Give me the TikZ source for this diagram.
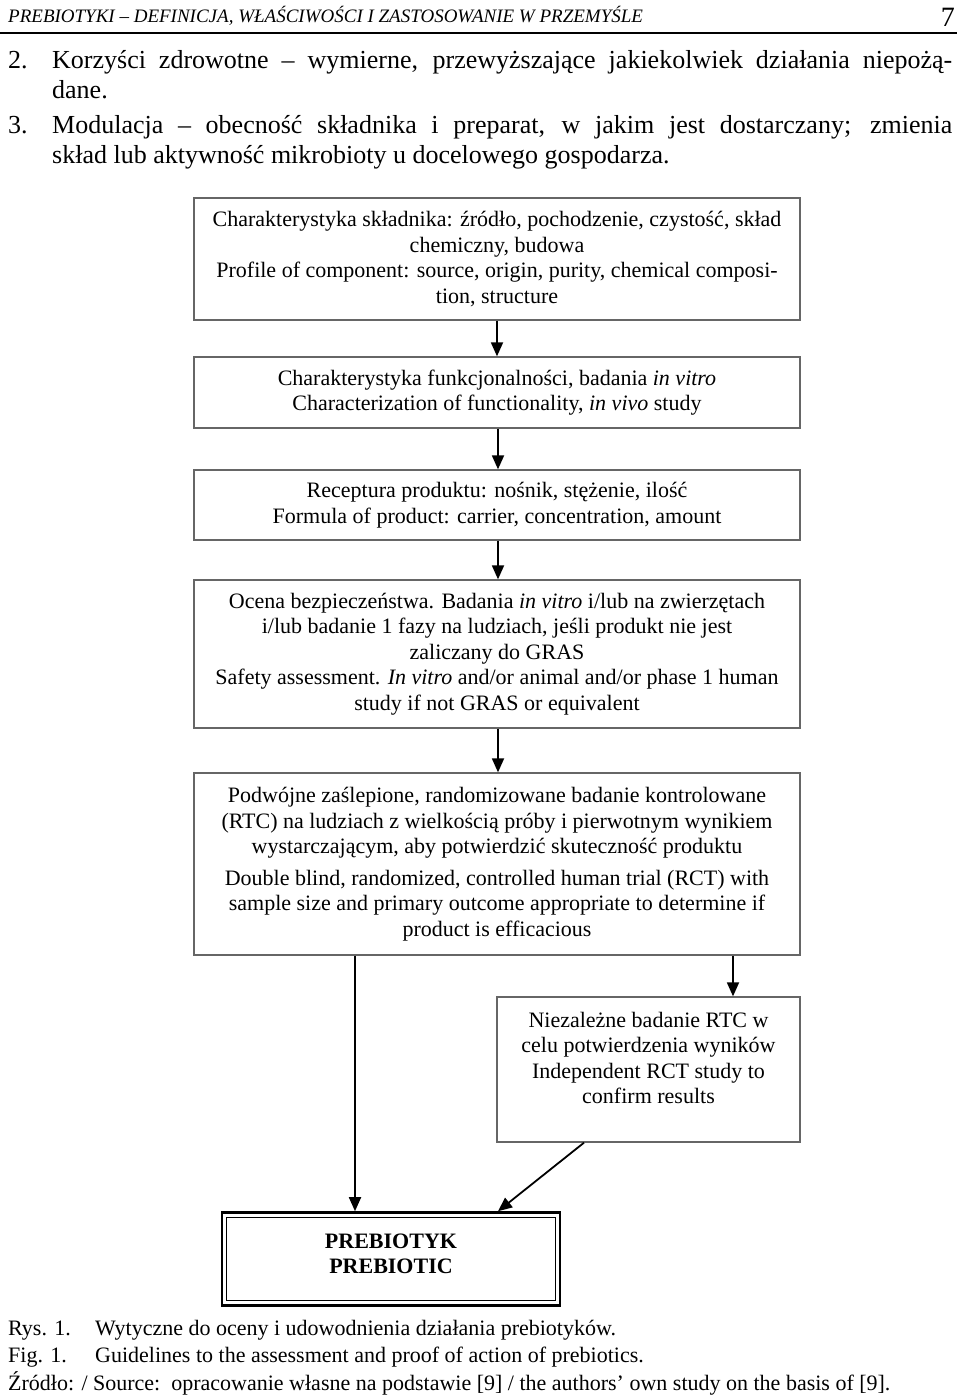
\documentclass[tikz,border=0pt]{standalone}
\usepackage{fontspec}
\setmainfont{Liberation Serif}
\usetikzlibrary{arrows.meta,calc}
\begin{document}
\begin{tikzpicture}[x=1pt,y=-1pt,
  box/.style={draw=black!60, line width=1.3pt, minimum width=606pt, inner sep=0pt, align=center,
    font=\fontsize{22}{25.5}\selectfont},
  arr/.style={line width=1.8pt, -{Triangle[length=14pt,width=12pt]}},
  body/.style={anchor=base west, inner sep=0pt, font=\fontsize{26}{26}\selectfont},
  capt/.style={anchor=base west, inner sep=0pt, font=\fontsize{22}{24}\selectfont},
]
\useasboundingbox (0,0) rectangle (960,1398);
% header
\node[anchor=base west, inner sep=0pt, font=\fontsize{19}{20}\selectfont\itshape] (hd) at (8,22)
  {PREBIOTYKI -- DEFINICJA, WŁAŚCIWOŚCI I ZASTOSOWANIE W PRZEMYŚLE};
\node[anchor=base east, inner sep=0pt, font=\fontsize{28}{30}\selectfont] (pg) at (955,26) {7};
\draw[line width=2pt] (0,33) -- (957,33);
% body
\node[body] (n2) at (8,68) {2.};
\node[body] (t2a) at (52,68) {\makebox[900pt][s]{Korzyści zdrowotne -- wymierne, przewyższające jakiekolwiek działania niepożą-}};
\node[body] (t2b) at (52,98) {dane.};
\node[body] (n3) at (8,133) {3.};
\node[body] (t3a) at (52,133) {\makebox[900pt][s]{Modulacja -- obecność składnika i preparat, w jakim jest dostarczany; zmienia}};
\node[body] (t3b) at (52,163) {skład lub aktywność mikrobioty u docelowego gospodarza.};
% boxes
\node[box, minimum height=122pt] (b1) at (497,259)
  {Charakterystyka składnika: źródło, pochodzenie, czystość, skład\\
   chemiczny, budowa\\
   Profile of component: source, origin, purity, chemical composi-\\
   tion, structure};
\node[box, minimum height=71pt] (b2) at (497,392.5)
  {Charakterystyka funkcjonalności, badania \textit{in vitro}\\
   Characterization of functionality, \textit{in vivo} study};
\node[box, minimum height=70pt] (b3) at (497,505)
  {Receptura produktu: nośnik, stężenie, ilość\\
   Formula of product: carrier, concentration, amount};
\node[box, minimum height=148pt] (b4) at (497,654)
  {Ocena bezpieczeństwa. Badania \textit{in vitro} i/lub na zwierzętach\\
   i/lub badanie 1 fazy na ludziach, jeśli produkt nie jest\\
   zaliczany do GRAS\\
   Safety assessment. \textit{In vitro} and/or animal and/or phase 1 human\\
   study if not GRAS or equivalent};
\node[box, minimum height=182pt] (b5) at (497,864)
  {Podwójne zaślepione, randomizowane badanie kontrolowane\\
   (RTC) na ludziach z wielkością próby i pierwotnym wynikiem\\
   wystarczającym, aby potwierdzić skuteczność produktu\\[6pt]
   Double blind, randomized, controlled human trial (RCT) with\\
   sample size and primary outcome appropriate to determine if\\
   product is efficacious};
\node[box, minimum width=303pt, minimum height=145pt] (b6) at (648.5,1069.5)
  {Niezależne badanie RTC w\\
   celu potwierdzenia wyników\\
   Independent RCT study to\\
   confirm results\\[-2pt]};
\node[box, draw=black, line width=2.6pt, minimum width=338pt, minimum height=93pt,
  font=\fontsize{22}{25.5}\selectfont\bfseries] (b7) at (391,1259)
  {PREBIOTYK\\ PREBIOTIC\\[-14.5pt]};
\draw[line width=1.3pt] ($(b7.north west)+(6,6)$) rectangle ($(b7.south east)+(-6,-6)$);
% connectors
\coordinate (c57) at (355,0);
\coordinate (c56) at (733,0);
\coordinate (c6s) at (584,0);
\coordinate (c7t) at (498,0);
\draw[arr] (b1.south) -- (b2.north);
\draw[arr] (b2.south -| c7t) -- (b3.north -| c7t);
\draw[arr] (b3.south -| c7t) -- (b4.north -| c7t);
\draw[arr] (b4.south -| c7t) -- (b5.north -| c7t);
\draw[arr] (b5.south -| c57) -- (b7.north -| c57);
\draw[arr] (b5.south -| c56) -- (b6.north -| c56);
\draw[arr] (b6.south -| c6s) -- (b7.north -| c7t);
% caption
\node[capt] (r1) at (8,1335) {Rys. 1.};
\node[capt] (r1t) at (95,1335) {Wytyczne do oceny i udowodnienia działania prebiotyków.};
\node[capt] (f1) at (8,1362) {Fig. 1.};
\node[capt] (f1t) at (95,1362) {Guidelines to the assessment and proof of action of prebiotics.};
\node[capt] (src) at (8,1390) {Źródło: / Source:\ \ opracowanie własne na podstawie [9] / the authors’ own study on the basis of [9].};
\end{tikzpicture}
\end{document}
